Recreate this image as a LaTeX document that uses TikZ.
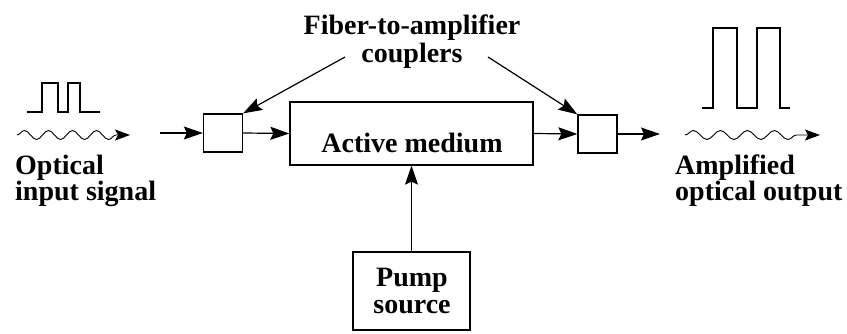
\documentclass[tikz,border=0pt]{standalone}
\usepackage{fontspec}
\setmainfont{Liberation Serif}
\usetikzlibrary{arrows.meta,decorations.pathmorphing,positioning}
\tikzset{decoration={snake,amplitude=4.5pt,segment length=24pt, post length=14pt,pre length=0pt}}
\tikzset{
  coupler/.style={
    draw,
    line width=1.3pt,
    minimum width=39pt,
    minimum height=38pt,
    inner sep=0pt
  },
  block/.style={
    draw,
    line width=1.3pt,
    inner sep=0pt
  },
  txt/.style={
    font=\fontsize{28}{28}\selectfont\bfseries,
    inner sep=0pt
  },
  flow/.style={
    line width=1.2pt,
    -{Stealth[length=19pt,width=13pt,inset=3pt]}
  },
  pulse/.style={
    line width=2.6pt,
    line join=miter
  },
  wave/.style={
    line width=0.9pt,
    decorate,
    -{Stealth[length=15pt,width=11pt,inset=3pt]}
  }
}
\begin{document}
\begin{tikzpicture}[x=1pt,y=-1pt]
        \useasboundingbox (0,0) rectangle (847,334);
        % boxes
        \node[coupler] (cin) at (223,133) {};
        \node[block, minimum width=243pt, minimum height=63pt] (med) at (411.5,133.5) {};
        \node[coupler] (cout) at (597.5,134) {};
        \node[block, minimum width=117pt, minimum height=78pt] (pump) at (411.5,291) {};
        \node[txt, anchor=base] (medtxt) at (412,153) {Active medium};
        \node[txt, anchor=base] (pumpA) at (412,287) {Pump};
        \node[txt, anchor=base] (pumpB) at (412,313) {source};
        % labels
        \node[txt, anchor=base] (fib) at (412,35) {Fiber-to-amplifier};
        \node[txt, anchor=base] (coup) at (412,63) {couplers};
        \node[txt, anchor=base west] (opt) at (15,175) {Optical};
        \node[txt, anchor=base west] (inp) at (15,201) {input signal};
        \node[txt, anchor=base west] (amp) at (675,175) {Amplified};
        \node[txt, anchor=base west] (outp) at (675,201) {optical output};
        % signal path
        \coordinate (inend) at (160,133);
        \coordinate (outend) at (660,134);
        \draw[flow] (inend) -- (cin.west);
        \draw[flow] (cin.east) -- (med.west);
        \draw[flow] (med.east) -- (cout.west);
        \draw[flow] (cout.east) -- (outend);
        \draw[flow] (pump.north) -- (med.south);
        % coupler pointers
        \coordinate (cpl) at (345,57);
        \coordinate (cpr) at (488,57);
        \draw[flow] (cpl) -- (cin.north east);
        \draw[flow] (cpr) -- (cout.north west);
        % pulses
        \draw[pulse] (27,112) -- (42,112) -- (42,83) -- (58,83) -- (58,112)
            -- (68,112) -- (68,83) -- (80,83) -- (80,112) -- (100,112);
        \draw[pulse] (702,108) -- (713,108) -- (713,28) -- (737,28) -- (737,108)
            -- (757,108) -- (757,28) -- (780,28) -- (780,108) -- (790,108);
        % waves
        \coordinate (wina) at (17,135);
        \coordinate (winb) at (130,135);
        \coordinate (wouta) at (685,135);
        \coordinate (woutb) at (820,135);
        \draw[wave] (wina) -- (winb);
        \draw[wave, decoration={segment length=27pt}] (wouta) -- (woutb);
    \end{tikzpicture}
\end{document}
